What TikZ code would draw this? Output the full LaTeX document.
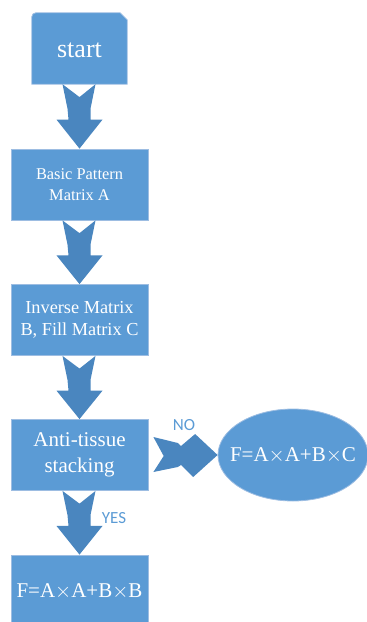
\documentclass[tikz,border=0pt]{standalone}
\usepackage{fontspec}
\setmainfont{Liberation Serif}
\newfontfamily\labfont{Carlito}
\usetikzlibrary{calc,shapes.geometric}
\definecolor{boxblue}{HTML}{5B9BD5}
\definecolor{boxedge}{HTML}{9DBDE2}
\definecolor{arrowblue}{HTML}{4A86BF}
\definecolor{labblue}{HTML}{5B9BD5}
\tikzset{
  box/.style={fill=boxblue, draw=boxedge, line width=0.8pt, text=white, align=center,
    minimum width=137pt, minimum height=71pt, inner sep=0pt},
  blockarrow/.style={fill=arrowblue},
  lab/.style={text=labblue, font=\labfont\fontsize{17}{19}\selectfont, inner sep=0pt}
}
\newcommand\downblock[2]{%
  \fill[blockarrow] let \p1=(#1.south), \p2=(#2.north), \n1={\y1-\y2} in
  ({\x1-17pt},{\y1}) -- ({\x1},{\y1-0.2*\n1}) -- ({\x1+16pt},{\y1})
  -- ({\x1+11pt},{\y1-0.38*\n1}) -- ({\x1+11pt},{\y1-0.55*\n1})
  -- ({\x1+23pt},{\y1-0.55*\n1}) -- ({\x1},{\y2})
  -- ({\x1-23pt},{\y1-0.55*\n1}) -- ({\x1-11pt},{\y1-0.55*\n1})
  -- ({\x1-12pt},{\y1-0.38*\n1}) -- cycle;}
\begin{document}
\begin{tikzpicture}[x=1pt,y=-1pt]
\useasboundingbox (0,0) rectangle (367,622);
% start box
\node[inner sep=0pt, minimum width=95pt, minimum height=71pt] (start) at (79.5,48.5) {};
\fill[boxblue, draw=boxedge, line width=0.8pt] (start.south west)
  [rounded corners=4pt] -- (start.north west) [sharp corners]
  -- ($(start.north east)+(-7,0)$) -- ($(start.north east)+(0,7)$)
  -- (start.south east) -- cycle;
\node[text=white, font=\fontsize{26}{30}\selectfont, inner sep=0pt] (starttext) at ($(start.center)+(0,1.5)$) {start};
% boxes
\node[box, font=\fontsize{16.4}{21}\selectfont] (pat) at (79.5,184.5) {Basic Pattern\\Matrix A};
\node[box, font=\fontsize{18.3}{22}\selectfont] (inv) at (79.5,320) {Inverse Matrix\\B, Fill Matrix C};
\node[box, font=\fontsize{21}{26}\selectfont] (anti) at (79.5,455) {Anti-tissue\\stacking};
\node[box, minimum height=72pt, font=\fontsize{21}{26}\selectfont] (res1) at (79.5,591) {F=A$\times$A+B$\times$B};
\node[ellipse, fill=boxblue, draw=boxedge, line width=0.8pt, text=white, inner xsep=-14pt, inner ysep=0pt,
  minimum width=150pt, minimum height=92pt, font=\fontsize{21}{26}\selectfont]
  (res2) at (293,455) {F=A$\times$A+B$\times$C};
% block arrows
\downblock{start}{pat}
\downblock{pat}{inv}
\downblock{inv}{anti}
\downblock{anti}{res1}
% NO arrow
\fill[blockarrow] let \p1=($(anti.east)+(5,0)$), \p2=(res2.west), \n1={\x2-\x1} in
  ({\x1},{\y1+18pt}) -- ({\x1+0.38*\n1},{\y1+12pt}) -- ({\x1+0.43*\n1},{\y1+9pt})
  -- ({\x1+0.65*\n1},{\y1+21pt}) -- ({\x2},{\y2}) -- ({\x1+0.62*\n1},{\y1-22pt})
  -- ({\x1+0.43*\n1},{\y1-10pt}) -- ({\x1+0.38*\n1},{\y1-12pt})
  -- ({\x1},{\y1-17pt}) -- ({\x1+0.16*\n1},{\y1-1pt}) -- cycle;
% labels
\node[lab] (no) at (184,425) {NO};
\node[lab] (yes) at (114,518) {YES};
\end{tikzpicture}
\end{document}
